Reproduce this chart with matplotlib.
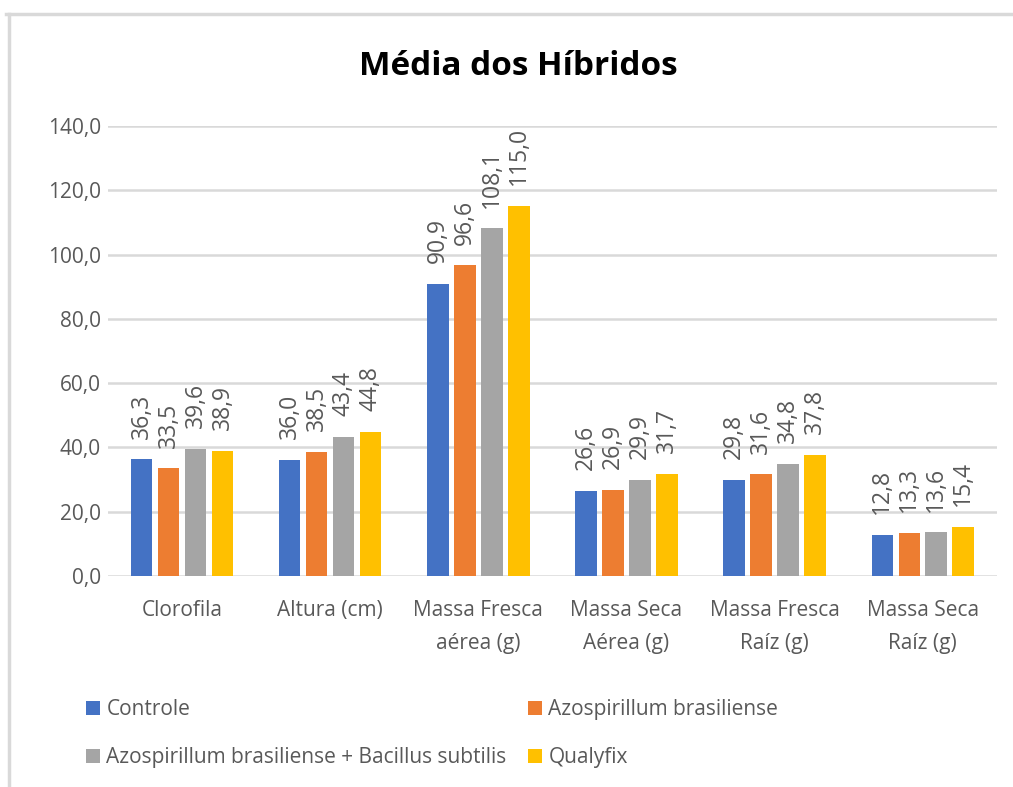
import numpy as np
import matplotlib.pyplot as plt
from matplotlib.lines import Line2D
from matplotlib.patches import Patch

plt.rcParams['font.family'] = ['Open Sans', 'DejaVu Sans']

categorias = ["Clorofila", "Altura (cm)", "Massa Fresca\naérea (g)",
              "Massa Seca\nAérea (g)", "Massa Fresca\nRaíz (g)", "Massa Seca\nRaíz (g)"]
series = ["Controle", "Azospirillum brasiliense",
          "Azospirillum brasiliense + Bacillus subtilis", "Qualyfix"]
controle = [36.3, 36.0, 90.9, 26.6, 29.8, 12.8]
azospirillum = [33.5, 38.5, 96.6, 26.9, 31.6, 13.3]
azo_bacillus = [39.6, 43.4, 108.1, 29.9, 34.8, 13.6]
qualyfix = [38.9, 44.8, 115.0, 31.7, 37.8, 15.4]
cores = ["#4472c4", "#ed7d31", "#a5a5a5", "#ffc000"]

valores = [controle, azospirillum, azo_bacillus, qualyfix]

fig = plt.figure(figsize=(10.13, 7.87), dpi=100)
ax = fig.add_axes([0.1066, 0.268, 0.8774, 0.572])

x = np.arange(len(categorias))
largura = 0.145
passo = 0.182
cinza = "#595959"

for i, (vals, cor) in enumerate(zip(valores, cores)):
    pos = x + (i - 1.5) * passo
    ax.bar(pos, vals, width=largura, color=cor, zorder=3)
    for px, v in zip(pos, vals):
        ax.annotate(f"{v:.1f}".replace(".", ","), (px, v), xytext=(0, 15),
                    textcoords="offset points", rotation=90, ha="center",
                    va="bottom", fontsize=16.5, color=cinza)

ax.set_xlim(-0.5, 5.5)
ax.set_ylim(0, 140)
ax.set_yticks(np.arange(0, 141, 20))
ax.set_yticklabels([f"{t:.1f}".replace(".", ",") for t in np.arange(0, 141, 20)])
ax.set_xticks(x)
ax.set_xticklabels(categorias, linespacing=1.75)
ax.tick_params(axis="both", length=0, labelsize=15, labelcolor=cinza)
ax.tick_params(axis="x", pad=17)
ax.tick_params(axis="y", pad=5)
ax.grid(axis="y", color="#d9d9d9", linewidth=1.8, zorder=0)
for s in ax.spines.values():
    s.set_visible(False)

fig.text(0.512, 0.915, "Média dos Híbridos", ha="center", va="center",
         fontsize=24, fontweight="bold")

# ordem para as colunas ficarem como no original
ordem = [0, 2, 1, 3]
handles = [Patch(facecolor=cores[k], edgecolor="none") for k in ordem]
fig.legend(handles, [series[k] for k in ordem], loc="lower left",
           bbox_to_anchor=(0.066, 0.0), ncol=2, frameon=False, fontsize=15,
           labelcolor=cinza, handlelength=0.7, handleheight=0.7,
           handletextpad=0.3, columnspacing=1.0, labelspacing=1.3)

# moldura do grafico (so topo e lado esquerdo visiveis)
fig.add_artist(Line2D([0.006, 1.0], [0.982, 0.982], color="#d9d9d9", linewidth=2.5))
fig.add_artist(Line2D([0.009, 0.009], [0.0, 0.982], color="#d9d9d9", linewidth=2.5))

fig.savefig("out.png", dpi=100)
